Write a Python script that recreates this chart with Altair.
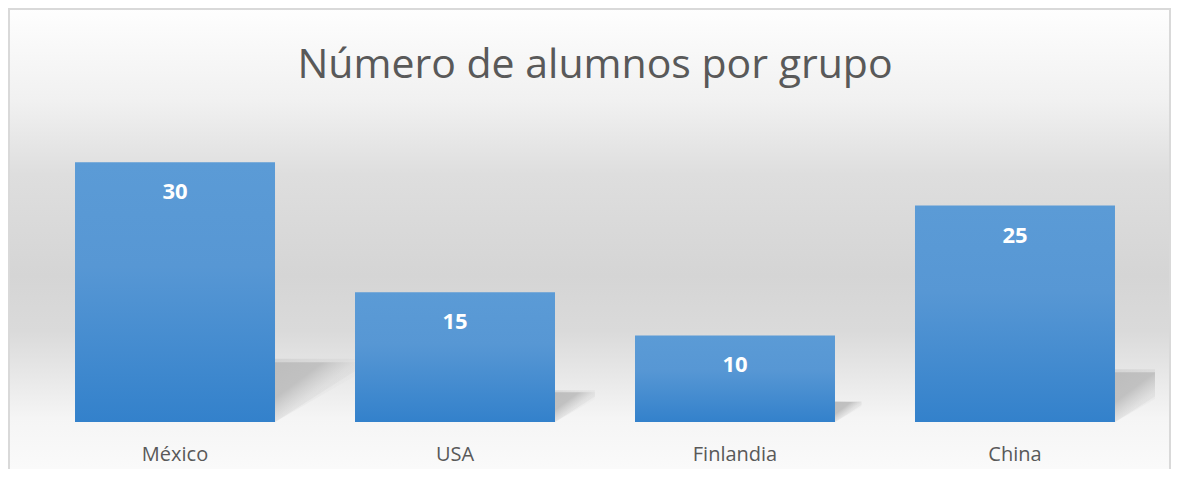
import altair as alt
import pandas as pd

# ---- data ----
CATEGORIES = ["México", "USA", "Finlandia", "China"]
VALUES = [30, 15, 10, 25]
TITLE = "Número de alumnos por grupo"

FONT = "Open Sans"
TEXT_GRAY = "#595959"

W, H = 1120, 303
PAD = {"left": 27, "top": 111, "right": 16, "bottom": 47}

bars_df = pd.DataFrame({"cat": CATEGORIES, "val": VALUES})

# perspective shadow geometry derived from the bar values (decoration only)
HALF_BAND = 100 / 280
SH_H = 0.23
SH_W = 0.0095
rows = []
for i, (c, v) in enumerate(zip(CATEGORIES, VALUES)):
    xr = i + HALF_BAND
    top = SH_H * v
    rows.append({"cat": c, "sx": xr, "sy": top, "sy2": 0})
    rows.append({"cat": c, "sx": xr + SH_W * v, "sy": top, "sy2": top * 0.85})
shadow_df = pd.DataFrame(rows)

yscale = alt.Scale(domain=[0, 35], nice=False, zero=True)

bg_grad = alt.Gradient(
    gradient="linear", x1=0, x2=0, y1=0, y2=1,
    stops=[
        alt.GradientStop(color="#fefefe", offset=0),
        alt.GradientStop(color="#f1f1f1", offset=0.2),
        alt.GradientStop(color="#dedede", offset=0.36),
        alt.GradientStop(color="#d5d5d5", offset=0.58),
        alt.GradientStop(color="#dadada", offset=0.70),
        alt.GradientStop(color="#e8e8e8", offset=0.80),
        alt.GradientStop(color="#f5f5f5", offset=0.89),
        alt.GradientStop(color="#fafafa", offset=1),
    ],
)

one = alt.Data(values=[{"t": TITLE}])

background = alt.Chart(one).mark_rect(color=bg_grad).encode(
    x=alt.value(-PAD["left"]), x2=alt.value(W + PAD["right"]),
    y=alt.value(-PAD["top"]), y2=alt.value(H + PAD["bottom"]),
)

border = alt.Chart(one).mark_rect(
    fillOpacity=0, stroke="#d9d9d9", strokeWidth=2
).encode(
    x=alt.value(-PAD["left"] + 1), x2=alt.value(W + PAD["right"] - 1),
    y=alt.value(-PAD["top"] + 1), y2=alt.value(H + PAD["bottom"] + 20),
)

# soft outer halo of the shadow (imitates blur)
halo_grad = alt.Gradient(
    gradient="linear", x1=0, x2=1, y1=0, y2=1,
    stops=[
        alt.GradientStop(color="rgba(190,190,190,0.45)", offset=0),
        alt.GradientStop(color="rgba(200,200,200,0.25)", offset=0.45),
        alt.GradientStop(color="rgba(220,220,220,0)", offset=0.75),
    ],
)
shadow_grad = alt.Gradient(
    gradient="linear", x1=0, x2=1, y1=0, y2=1,
    stops=[
        alt.GradientStop(color="#bdbdbd", offset=0),
        alt.GradientStop(color="#c1c1c1", offset=0.3),
        alt.GradientStop(color="rgba(210,210,210,0.35)", offset=0.5),
        alt.GradientStop(color="rgba(230,230,230,0)", offset=1),
    ],
)

sx = alt.X("sx:Q", scale=alt.Scale(domain=[-0.5, 3.5], nice=False, zero=False), axis=None)

shadows_halo = alt.Chart(shadow_df).mark_area(color=halo_grad, clip=True).encode(
    x=sx,
    y=alt.Y("sy:Q", scale=yscale, axis=None),
    y2="sy2:Q",
    detail="cat:N",
).transform_calculate(sy="datum.sy * 1.06", sy2="datum.sy2 * 0.9")

shadows = alt.Chart(shadow_df).mark_area(color=shadow_grad, clip=True).encode(
    x=sx,
    y=alt.Y("sy:Q", scale=yscale, axis=None),
    y2="sy2:Q",
    detail="cat:N",
)

bar_grad = alt.Gradient(
    gradient="linear", x1=0, x2=0, y1=0, y2=1,
    stops=[
        alt.GradientStop(color="#5b9bd6", offset=0),
        alt.GradientStop(color="#5797d4", offset=0.4),
        alt.GradientStop(color="#3381cb", offset=1),
    ],
)

xenc = alt.X(
    "cat:N", sort=CATEGORIES, title=None,
    scale=alt.Scale(paddingInner=0.2857, paddingOuter=0.1429),
    axis=alt.Axis(
        labelFont=FONT, labelFontSize=20, labelColor=TEXT_GRAY,
        labelAngle=0, labelPadding=22, ticks=False, tickSize=0,
        domain=False, grid=False, zindex=2,
    ),
)

bars = alt.Chart(bars_df).mark_bar(color=bar_grad).encode(
    x=xenc,
    y=alt.Y("val:Q", scale=yscale, axis=None),
)

labels = alt.Chart(bars_df).mark_text(
    font=FONT, fontSize=22, fontWeight="bold", color="white",
    baseline="middle", align="center", dy=30,
).encode(
    x=xenc,
    y=alt.Y("val:Q", scale=yscale, axis=None),
    text="val:Q",
)

inner = alt.layer(bars, labels)

title = alt.Chart(one).mark_text(
    font=FONT, fontSize=41, color=TEXT_GRAY, align="center", baseline="alphabetic",
).encode(
    x=alt.value(W / 2), y=alt.value(-41), text="t:N",
)

chart = alt.layer(background, border, shadows_halo, shadows, inner, title).resolve_scale(
    x="independent"
).properties(
    width=W, height=H, padding=PAD,
    autosize=alt.AutoSizeParams(type="none"),
).configure_view(strokeWidth=0)

chart.save("out.html", embed_options={"renderer": "svg", "actions": False})
